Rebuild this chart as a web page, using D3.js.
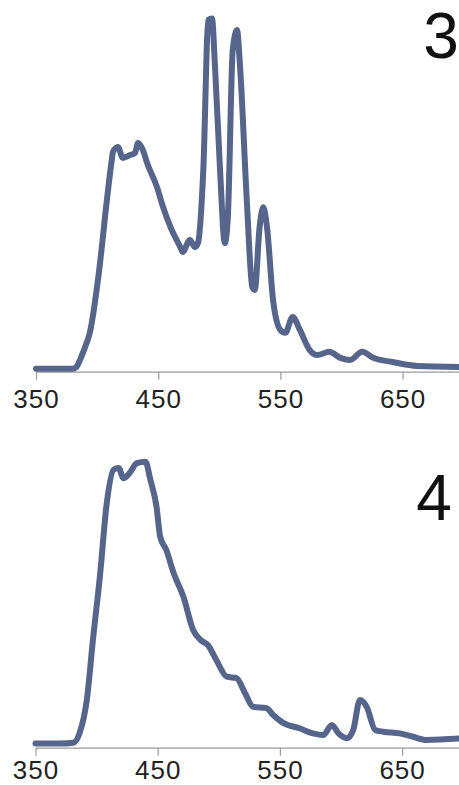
<!DOCTYPE html>
<html>
<head>
<meta charset="utf-8">
<script src="https://cdn.jsdelivr.net/npm/d3@7"></script>
<style>
  body { margin: 0; background: #fff; }
  text { font-family: "Liberation Sans", Arial, sans-serif; }
</style>
</head>
<body>
<div id="chart"></div>
<script>
// spectrum 3 (wavelength in nm, relative intensity)
const wave3 = [350, 365, 380, 383, 386, 390, 394, 402, 408, 412, 413, 417, 421, 427, 431, 433.5, 437.5, 441, 449, 454, 460, 468, 470, 476, 480, 482.5, 487, 491, 494, 496.5, 500.5, 504.5, 507, 511, 514.5, 517, 522.5, 527, 529, 533, 536, 539, 544, 550, 554, 560, 566, 574, 580, 590, 599, 607, 617, 626, 642, 662, 700];
const int3  = [0.5, 0.5, 0.5, 1, 3, 6.5, 10.7, 29.4, 48.4, 59.8, 62.1, 63.5, 60.4, 61.2, 61.8, 64.6, 62.6, 58.9, 52.1, 46.4, 40.8, 35.1, 33.7, 37.1, 35.1, 36.2, 57.8, 99.6, 100, 86.2, 57.8, 36.2, 43.6, 91, 96.7, 86.2, 48.4, 23.7, 22.9, 40.8, 46.4, 40.8, 20, 11.5, 10.7, 15.2, 11.5, 5.8, 4.4, 5.3, 3.6, 3, 5.3, 3.6, 2.4, 1.3, 1];

// spectrum 4
const wave4 = [350, 370, 381, 386, 392, 397, 403, 408, 414, 418, 422, 427, 433, 440, 444, 449, 452, 457, 463, 471, 479, 485, 491, 498, 506.5, 514.5, 521.5, 528, 539, 544.5, 553, 566, 577, 585.5, 592.5, 598, 605, 610, 615.5, 621, 628, 634.5, 648, 659, 670, 700];
const int4  = [0.5, 0.5, 0.8, 4.1, 15.9, 37.1, 60.8, 84.2, 97.2, 97.8, 94.2, 96, 99.5, 100, 93.6, 84.2, 73.6, 68.9, 60.7, 52.4, 40.6, 37.1, 35.3, 30, 24.1, 23.6, 18.3, 13.5, 13, 10.6, 7.7, 5.9, 4.1, 3.5, 7.1, 4.1, 2.4, 5.3, 15.9, 13.5, 5.3, 4.7, 4.1, 2.9, 1.8, 2.4];

const tickVals = [350, 450, 550, 650];
const panelLabels = ["3", "4"];

const W = 459, H = 785;
const lineColor = "#56658c";

const svg = d3.select("#chart").append("svg")
  .attr("width", W)
  .attr("height", H);

function drawPanel(wave, inten, label, opt) {
  const x = d3.scaleLinear()
    .domain([350, 700])
    .range([opt.x0, opt.x0 + 350 * 1.222]);
  const y = d3.scaleLinear()
    .domain([0, 100])
    .range([opt.base, opt.top]);

  const g = svg.append("g");

  // x axis
  const ax = g.append("g")
    .attr("transform", `translate(0,${opt.axisY})`)
    .call(d3.axisBottom(x).tickValues(tickVals).tickSize(8).tickSizeOuter(0).tickPadding(opt.pad));
  ax.select(".domain").attr("stroke", "#9a9a9a").attr("stroke-width", 1.2);
  ax.selectAll(".tick line").attr("stroke", "#9a9a9a").attr("stroke-width", 1.2);
  ax.selectAll(".tick text")
    .attr("fill", "#222")
    .style("font-size", "26px")
    .style("letter-spacing", "1px")
    .attr("font-family", "'Liberation Sans', Arial, sans-serif");

  // spectrum line
  const pts = wave.map((w, i) => [w, inten[i]]);
  g.append("path")
    .datum(pts)
    .attr("fill", "none")
    .attr("stroke", lineColor)
    .attr("stroke-width", 6)
    .attr("stroke-linejoin", "round")
    .attr("stroke-linecap", "round")
    .attr("d", d3.line()
      .x(d => x(d[0]))
      .y(d => y(d[1]))
      .curve(d3.curveMonotoneX));

  // panel number
  g.append("text")
    .attr("x", opt.lx)
    .attr("y", opt.ly)
    .attr("text-anchor", "middle")
    .style("font-size", "64px")
    .attr("fill", "#111")
    .text(label);
}

drawPanel(wave3, int3, panelLabels[0], {x0: 36, base: 370.5, top: 18.5, axisY: 371.7, pad: 10, lx: 441, ly: 58});
drawPanel(wave4, int4, panelLabels[1], {x0: 35.5, base: 745, top: 461.7, axisY: 747.7, pad: 5, lx: 434, ly: 520});
</script>
</body>
</html>
